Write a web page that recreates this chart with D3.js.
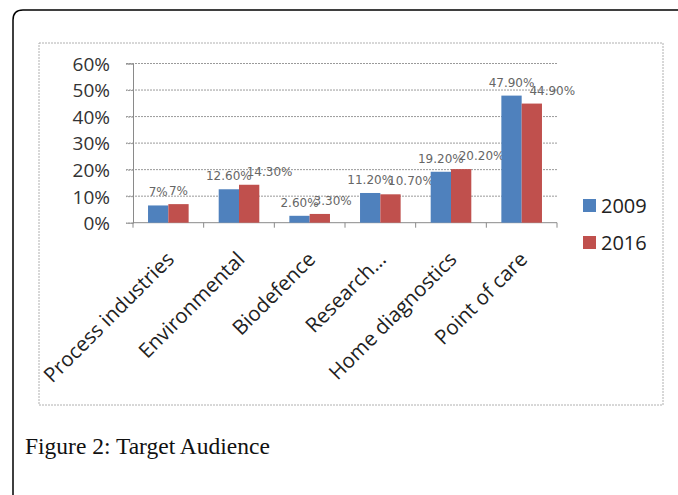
<!DOCTYPE html>
<html lang="en">
<head>
  <meta charset="UTF-8" />
  <title>Figure 2: Target Audience</title>
  <style>
    body {
      margin: 0;
      background-color: #fff;
    }
    svg {
      display: block;
    }
  </style>
</head>
<body>
  <svg width="678" height="495"></svg>

  <script src="https://cdnjs.cloudflare.com/ajax/libs/d3/7.8.5/d3.min.js"></script>
  <script>
    // Chart data
    const categories = ["Process industries", "Environmental", "Biodefence", "Research...", "Home diagnostics", "Point of care"];
    const seriesNames = ["2009", "2016"];
    const values2009 = [6.5, 12.6, 2.6, 11.2, 19.2, 47.9];
    const values2016 = [7, 14.3, 3.3, 10.7, 20.2, 44.9];
    const labels2009 = ["7%", "12.60%", "2.60%", "11.20%", "19.20%", "47.90%"];
    const labels2016 = ["7%", "14.30%", "3.30%", "10.70%", "20.20%", "44.90%"];
    const yTicks = [0, 10, 20, 30, 40, 50, 60];

    const colors = ["#4f81bd", "#c0504d"];

    const svg = d3.select("svg");

    // outer page frame with rounded top-left corner
    svg.append("path")
      .attr("d", "M13,495 L13,20 Q13,10 23,10 L690,10")
      .attr("fill", "none")
      .attr("stroke", "#000")
      .attr("stroke-width", 1.5);

    // chart area box
    svg.append("rect")
      .attr("x", 39).attr("y", 43)
      .attr("width", 624).attr("height", 362)
      .attr("fill", "none")
      .attr("stroke", "#b0b0b0")
      .attr("stroke-width", 1)
      .attr("stroke-dasharray", "2,1");

    const plot = { left: 133, right: 557, top: 63.5, bottom: 222.7 };

    const x0 = d3.scaleBand()
      .domain(categories)
      .range([plot.left, plot.right])
      .padding(0);

    const x1 = d3.scaleBand()
      .domain(seriesNames)
      .range([0, x0.bandwidth()])
      .paddingInner(0)
      .paddingOuter(0.74);

    const y = d3.scaleLinear()
      .domain([0, 60])
      .range([plot.bottom, plot.top]);

    const g = svg.append("g");

    // gridlines
    g.append("g")
      .selectAll("line")
      .data(yTicks.filter(t => t > 0))
      .join("line")
      .attr("x1", plot.left - 7)
      .attr("x2", plot.right)
      .attr("y1", d => y(d))
      .attr("y2", d => y(d))
      .attr("stroke", "#9a9a9a")
      .attr("stroke-dasharray", "2,1");

    // y axis
    const yAxis = g.append("g")
      .attr("transform", `translate(${plot.left},0)`)
      .call(d3.axisLeft(y).tickValues(yTicks).tickSize(7).tickFormat(d => d + "%"));
    yAxis.select(".domain").attr("stroke", "#8a8a8a");
    yAxis.selectAll(".tick line").attr("stroke", "#9a9a9a").attr("stroke-dasharray", "2,1");
    yAxis.selectAll("text")
      .attr("x", -23)
      .attr("dy", "0.36em")
      .style("font-family", "'Open Sans', sans-serif")
      .style("font-size", "19px")
      .attr("fill", "#333");

    // x axis line + ticks at band edges
    g.append("line")
      .attr("x1", plot.left).attr("x2", plot.right)
      .attr("y1", plot.bottom).attr("y2", plot.bottom)
      .attr("stroke", "#8a8a8a");

    g.append("g")
      .selectAll("line")
      .data(categories.concat(["end"]))
      .join("line")
      .attr("x1", (d, i) => plot.left + i * x0.step())
      .attr("x2", (d, i) => plot.left + i * x0.step())
      .attr("y1", plot.bottom)
      .attr("y2", plot.bottom + 5)
      .attr("stroke", "#8a8a8a");

    // bars
    const rows = categories.map((c, i) => ({
      cat: c,
      vals: [
        { s: "2009", v: values2009[i], label: labels2009[i] },
        { s: "2016", v: values2016[i], label: labels2016[i] }
      ]
    }));

    const groups = g.append("g")
      .selectAll("g")
      .data(rows)
      .join("g")
      .attr("transform", d => `translate(${x0(d.cat)},0)`);

    groups.selectAll("rect")
      .data(d => d.vals)
      .join("rect")
      .attr("x", d => x1(d.s))
      .attr("width", x1.bandwidth())
      .attr("y", d => y(d.v))
      .attr("height", d => y(0) - y(d.v))
      .attr("fill", (d, i) => colors[i]);

    // data labels
    groups.each(function(d) {
      const grp = d3.select(this);
      const texts = grp.selectAll("text.val")
        .data(d.vals)
        .join("text")
        .attr("class", "val")
        .attr("x", v => x1(v.s) + x1.bandwidth() / 2)
        .attr("y", v => y(v.v) - 9)
        .attr("text-anchor", "middle")
        .style("font-family", "'DejaVu Sans', sans-serif")
        .style("font-size", "12px")
        .attr("fill", "#666")
        .text(v => v.label);
      // nudge the second label right when the two collide
      const nodes = texts.nodes();
      const w0 = nodes[0].getComputedTextLength();
      const w1 = nodes[1].getComputedTextLength();
      const shift = Math.max(0, (w0 + w1) / 2 - x1.bandwidth() - 5);
      d3.select(nodes[1]).attr("dx", shift);
    });

    // category labels, rotated
    g.append("g")
      .selectAll("text")
      .data(categories)
      .join("text")
      .attr("transform", d => `translate(${x0(d) + x0.bandwidth() / 2 + 7},${plot.bottom + 38}) rotate(-45)`)
      .attr("text-anchor", "end")
      .style("font-family", "'Open Sans', sans-serif")
      .style("font-size", "20.5px")
      .attr("fill", "#222")
      .text(d => d);

    // legend
    const legend = svg.append("g")
      .selectAll("g")
      .data(seriesNames)
      .join("g")
      .attr("transform", (d, i) => `translate(583,${199 + i * 37})`);

    legend.append("rect")
      .attr("width", 13).attr("height", 13)
      .attr("fill", (d, i) => colors[i]);

    legend.append("text")
      .attr("x", 18)
      .attr("y", 7)
      .attr("dy", "0.36em")
      .style("font-family", "'Open Sans', sans-serif")
      .style("font-size", "20px")
      .attr("fill", "#222")
      .text(d => d);

    // caption
    svg.append("text")
      .attr("x", 25)
      .attr("y", 454)
      .style("font-family", "'Liberation Serif', serif")
      .style("font-size", "23.5px")
      .attr("fill", "#111")
      .text("Figure 2: Target Audience");
  </script>
</body>
</html>
